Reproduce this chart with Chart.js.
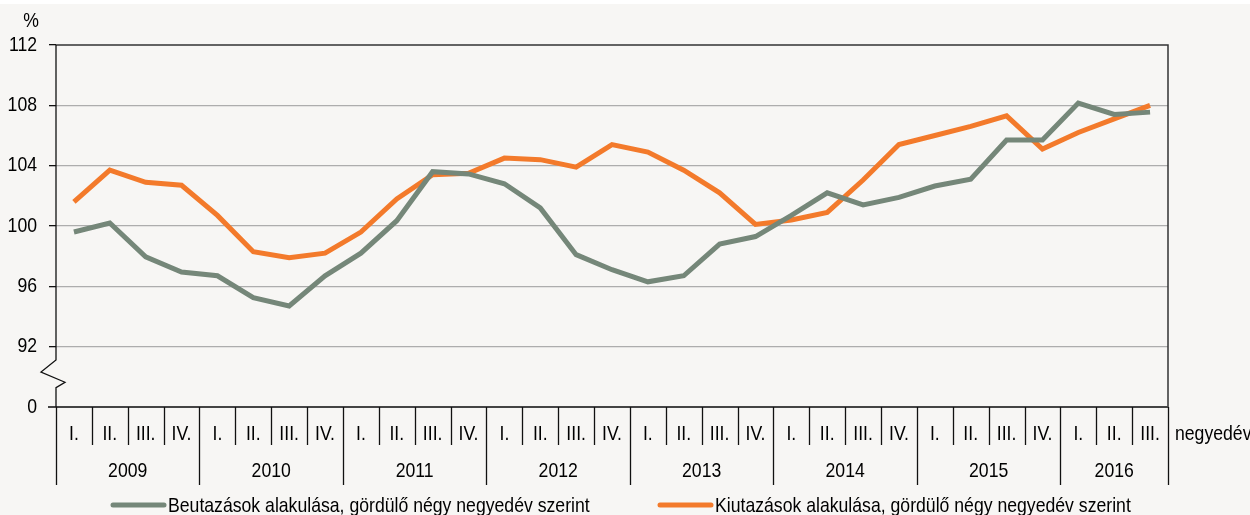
<!DOCTYPE html>
<html>
<head>
<meta charset="utf-8">
<script src="https://cdn.jsdelivr.net/npm/chart.js@4/dist/chart.umd.min.js"></script>
<style>
  html, body { margin: 0; padding: 0; background: #ffffff; }
  #wrap { position: relative; width: 1250px; height: 515px; overflow: hidden; }
  canvas { display: block; }
</style>
</head>
<body>
<div id="wrap"><canvas id="chart" width="1250" height="515"></canvas></div>
<script>
// Quarters 2009 I. – 2016 III.
const YEARS = ["2009", "2010", "2011", "2012", "2013", "2014", "2015", "2016"];
const QUARTER_NAMES = ["I.", "II.", "III.", "IV."];
const QUARTERS = [];
YEARS.forEach(() => {
  QUARTER_NAMES.forEach(q => {
    if (QUARTERS.length < 31) QUARTERS.push(q);
  });
});

// Beutazások alakulása, gördülő négy negyedév szerint (%)
const INBOUND = [
  99.6, 100.2, 97.95, 96.95, 96.7, 95.25, 94.7, 96.7,
  98.2, 100.35, 103.6, 103.45, 102.8, 101.2, 98.1, 97.1,
  96.3, 96.7, 98.8, 99.3, 100.7, 102.2, 101.4, 101.9,
  102.65, 103.1, 105.7, 105.7, 108.15, 107.4, 107.55
];

// Kiutazások alakulása, gördülő négy negyedév szerint (%)
const OUTBOUND = [
  101.6, 103.7, 102.9, 102.7, 100.7, 98.3, 97.9, 98.2,
  99.6, 101.8, 103.4, 103.5, 104.5, 104.4, 103.9, 105.4,
  104.9, 103.7, 102.2, 100.1, 100.4, 100.9, 103.05, 105.4,
  106.0, 106.6, 107.3, 105.1, 106.2, 107.1, 108.0
];

const Y_TICKS = [88, 92, 96, 100, 104, 108, 112]; // 88 is shown as "0" (broken axis)

const LABEL_FONT = '21px "Liberation Sans", Arial, sans-serif';
const NARROW = 0.84; // squeeze Liberation Sans to look like Arial Narrow
const GREY = "#758779";
const ORANGE = "#f37a2b";

function narrowText(ctx, text, x, y, align) {
  ctx.save();
  ctx.translate(x, y);
  ctx.scale(NARROW, 1);
  ctx.textAlign = align;
  ctx.textBaseline = "middle";
  ctx.fillText(text, 0, 0);
  ctx.restore();
}

// background, frame, broken y axis, two-level x labels, legend
const decorPlugin = {
  id: "decor",
  beforeDraw(chart) {
    const ctx = chart.ctx;
    ctx.save();
    ctx.fillStyle = "#ffffff";
    ctx.fillRect(0, 0, chart.width, chart.height);
    ctx.fillStyle = "#f7f6f4";
    ctx.fillRect(0, 4, chart.width, chart.height - 4);
    ctx.restore();
  },
  afterDraw(chart) {
    const ctx = chart.ctx;
    const a = chart.chartArea;
    const n = QUARTERS.length;
    const w = (a.right - a.left) / n;

    ctx.save();
    // frame
    ctx.strokeStyle = "#333333";
    ctx.lineWidth = 1.5;
    ctx.beginPath();
    ctx.moveTo(a.left, a.top);
    ctx.lineTo(a.right, a.top);
    ctx.lineTo(a.right, a.bottom);
    ctx.stroke();

    ctx.lineWidth = 2;
    ctx.strokeStyle = "#444444";
    ctx.beginPath();
    ctx.moveTo(a.left - 8, a.bottom);
    ctx.lineTo(a.right, a.bottom);
    ctx.stroke();

    // y axis with a break between 92 and 0
    const yS = chart.scales.y;
    const y92 = yS.getPixelForValue(92);
    const gap = a.bottom - y92;
    ctx.lineWidth = 1.3;
    ctx.strokeStyle = "#111111";
    ctx.beginPath();
    ctx.moveTo(a.left, a.top);
    ctx.lineTo(a.left, y92 + gap * 0.22);
    ctx.lineTo(a.left - 15, y92 + gap * 0.42);
    ctx.lineTo(a.left + 9, y92 + gap * 0.59);
    ctx.lineTo(a.left, y92 + gap * 0.68);
    ctx.lineTo(a.left, a.bottom);
    ctx.stroke();

    ctx.fillStyle = "#000000";
    ctx.font = LABEL_FONT;

    // y tick labels
    Y_TICKS.forEach(v => {
      narrowText(ctx, v === 88 ? "0" : String(v), 37, yS.getPixelForValue(v), "right");
    });
    // "%" unit
    narrowText(ctx, "%", 31, 21, "center");

    // quarter / year separators and labels
    ctx.strokeStyle = "#111111";
    ctx.lineWidth = 1.3;
    for (let k = 0; k <= n; k++) {
      const x = Math.round(a.left + k * w) + 0.5;
      const long = (k % 4 === 0) || k === n;
      ctx.beginPath();
      ctx.moveTo(x, a.bottom);
      ctx.lineTo(x, long ? a.bottom + 78 : a.bottom + 38);
      ctx.stroke();
    }
    const xS = chart.scales.x;
    QUARTERS.forEach((q, i) => {
      narrowText(ctx, q, xS.getPixelForValue(i), a.bottom + 27, "center");
    });
    YEARS.forEach((y, yi) => {
      const first = yi * 4;
      const last = Math.min(first + 3, n - 1);
      const x0 = a.left + first * w;
      const x1 = a.left + (last + 1) * w;
      narrowText(ctx, y, (x0 + x1) / 2, a.bottom + 64, "center");
    });
    narrowText(ctx, "negyedév", a.right + 7, a.bottom + 27, "left");

    // legend
    const items = [
      { text: chart.data.datasets[0].label, color: GREY, x: 113 },
      { text: chart.data.datasets[1].label, color: ORANGE, x: 660 }
    ];
    const ly = 505;
    items.forEach(it => {
      ctx.strokeStyle = it.color;
      ctx.lineWidth = 5;
      ctx.lineCap = "round";
      ctx.beginPath();
      ctx.moveTo(it.x, ly);
      ctx.lineTo(it.x + 51, ly);
      ctx.stroke();
      narrowText(ctx, it.text, it.x + 55, ly + 1, "left");
    });
    ctx.restore();
  }
};

function buildChart() {
  const ctx = document.getElementById("chart");
  new Chart(ctx, {
    type: "line",
    data: {
      labels: QUARTERS,
      datasets: [
        {
          label: "Beutazások alakulása, gördülő négy negyedév szerint",
          data: INBOUND,
          borderColor: GREY,
          borderWidth: 5,
          pointRadius: 0,
          tension: 0,
          borderJoinStyle: "miter"
        },
        {
          label: "Kiutazások alakulása, gördülő négy negyedév szerint",
          data: OUTBOUND,
          borderColor: ORANGE,
          borderWidth: 5,
          pointRadius: 0,
          tension: 0,
          borderJoinStyle: "miter"
        }
      ]
    },
    options: {
      responsive: false,
      animation: false,
      events: [],
      layout: { padding: { left: 0, right: 82, top: 45, bottom: 0 } },
      plugins: {
        legend: { display: false },
        tooltip: { enabled: false }
      },
      scales: {
        x: {
          type: "category",
          offset: true,
          grid: { display: false },
          border: { display: false },
          ticks: { display: false },
          afterFit: s => { s.height = 108; }
        },
        y: {
          min: 88,
          max: 112,
          afterBuildTicks: s => { s.ticks = Y_TICKS.map(v => ({ value: v })); },
          afterFit: s => { s.width = 56; },
          border: { display: false },
          grid: {
            color: c => (c.tick && (c.tick.value === 88 || c.tick.value === 112)) ? "rgba(0,0,0,0)" : "#adadad",
            lineWidth: 1.3,
            drawTicks: true,
            tickLength: 7,
            tickColor: "#111111"
          },
          ticks: {
            color: "rgba(0,0,0,0)",
            padding: 5,
            font: { size: 20 },
            callback: v => v === 88 ? "0" : String(v)
          }
        }
      }
    },
    plugins: [decorPlugin]
  });
}

document.addEventListener("DOMContentLoaded", buildChart);
</script>
</body>
</html>
